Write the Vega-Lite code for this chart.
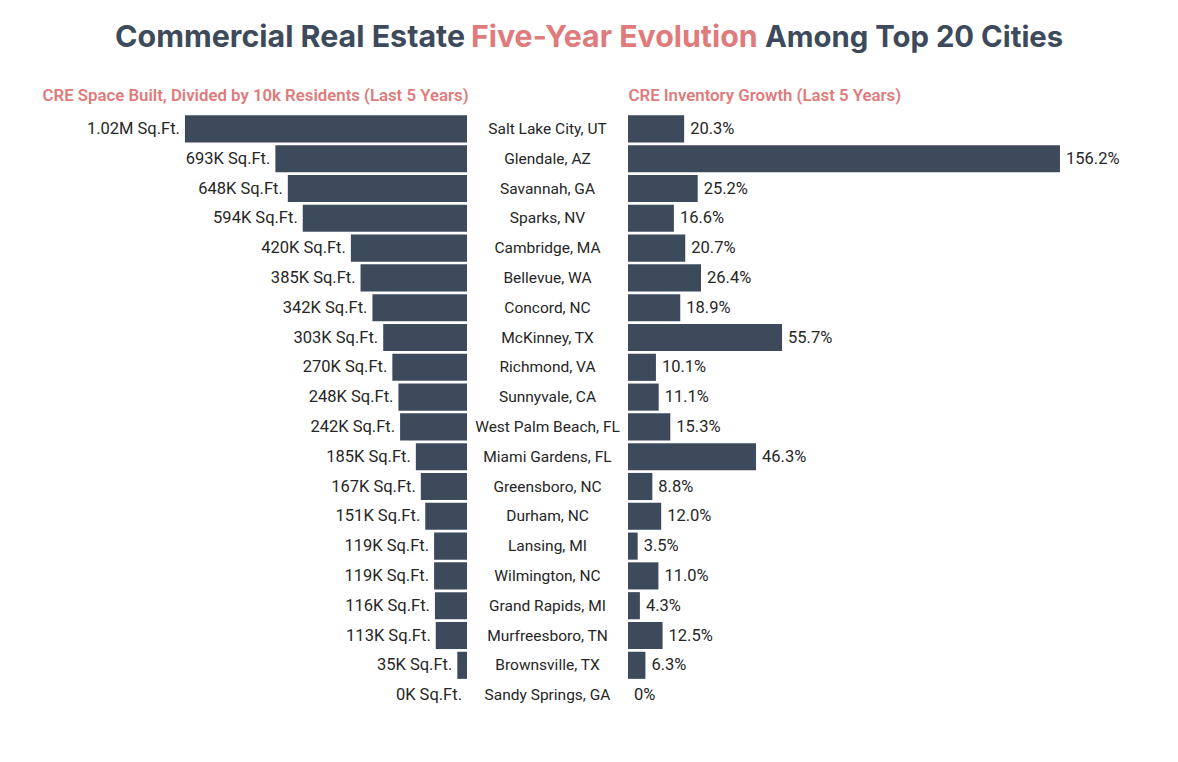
{
  "$schema": "https://vega.github.io/schema/vega-lite/v6.json",
  "background": "white",
  "padding": {"left": 42, "top": 22, "right": 0, "bottom": 0},
  "bounds": "flush",
  "spacing": 0,
  "config": {
    "font": "Roboto",
    "view": {"stroke": null},
    "title": {"font": "Inter", "fontSize": 30, "fontWeight": 700, "baseline": "alphabetic"}
  },
  "data": {"values": [
    {"city": "Salt Lake City, UT", "built": 1020, "builtLabel": "1.02M Sq.Ft.", "growth": 20.3, "growthLabel": "20.3%"},
    {"city": "Glendale, AZ", "built": 693, "builtLabel": "693K Sq.Ft.", "growth": 156.2, "growthLabel": "156.2%"},
    {"city": "Savannah, GA", "built": 648, "builtLabel": "648K Sq.Ft.", "growth": 25.2, "growthLabel": "25.2%"},
    {"city": "Sparks, NV", "built": 594, "builtLabel": "594K Sq.Ft.", "growth": 16.6, "growthLabel": "16.6%"},
    {"city": "Cambridge, MA", "built": 420, "builtLabel": "420K Sq.Ft.", "growth": 20.7, "growthLabel": "20.7%"},
    {"city": "Bellevue, WA", "built": 385, "builtLabel": "385K Sq.Ft.", "growth": 26.4, "growthLabel": "26.4%"},
    {"city": "Concord, NC", "built": 342, "builtLabel": "342K Sq.Ft.", "growth": 18.9, "growthLabel": "18.9%"},
    {"city": "McKinney, TX", "built": 303, "builtLabel": "303K Sq.Ft.", "growth": 55.7, "growthLabel": "55.7%"},
    {"city": "Richmond, VA", "built": 270, "builtLabel": "270K Sq.Ft.", "growth": 10.1, "growthLabel": "10.1%"},
    {"city": "Sunnyvale, CA", "built": 248, "builtLabel": "248K Sq.Ft.", "growth": 11.1, "growthLabel": "11.1%"},
    {"city": "West Palm Beach, FL", "built": 242, "builtLabel": "242K Sq.Ft.", "growth": 15.3, "growthLabel": "15.3%"},
    {"city": "Miami Gardens, FL", "built": 185, "builtLabel": "185K Sq.Ft.", "growth": 46.3, "growthLabel": "46.3%"},
    {"city": "Greensboro, NC", "built": 167, "builtLabel": "167K Sq.Ft.", "growth": 8.8, "growthLabel": "8.8%"},
    {"city": "Durham, NC", "built": 151, "builtLabel": "151K Sq.Ft.", "growth": 12.0, "growthLabel": "12.0%"},
    {"city": "Lansing, MI", "built": 119, "builtLabel": "119K Sq.Ft.", "growth": 3.5, "growthLabel": "3.5%"},
    {"city": "Wilmington, NC", "built": 119, "builtLabel": "119K Sq.Ft.", "growth": 11.0, "growthLabel": "11.0%"},
    {"city": "Grand Rapids, MI", "built": 116, "builtLabel": "116K Sq.Ft.", "growth": 4.3, "growthLabel": "4.3%"},
    {"city": "Murfreesboro, TN", "built": 113, "builtLabel": "113K Sq.Ft.", "growth": 12.5, "growthLabel": "12.5%"},
    {"city": "Brownsville, TX", "built": 35, "builtLabel": "35K Sq.Ft.", "growth": 6.3, "growthLabel": "6.3%"},
    {"city": "Sandy Springs, GA", "built": 0, "builtLabel": "0K Sq.Ft.", "growth": 0, "growthLabel": "0%"}
  ]},
  "hconcat": [
    {
      "width": 425,
      "height": 596,
      "title": {"text": "Commercial Real Estate", "color": "#3d4a5c", "fontSize": 30.4, "anchor": "end", "frame": "group", "offset": 34, "dx": -2},
      "encoding": {
        "y": {"field": "city", "type": "nominal", "sort": null, "axis": null, "scale": {"paddingInner": 0.09, "paddingOuter": 0.045}}
      },
      "layer": [
        {
          "mark": {"type": "bar", "color": "#3d4a5c"},
          "encoding": {
            "x": {
              "field": "built",
              "type": "quantitative",
              "scale": {"domain": [0, 1537], "reverse": true, "nice": false},
              "axis": {
                "orient": "top", "title": "CRE Space Built, Divided by 10k Residents (Last 5 Years)",
                "titleColor": "#e07b7b", "titleFont": "Roboto", "titleFontSize": 16.8, "titleFontWeight": 600,
                "titleX": 0, "titleY": -14, "titleAlign": "left", "titleBaseline": "alphabetic",
                "labels": false, "ticks": false, "domain": false, "grid": false
              }
            }
          }
        },
        {
          "mark": {"type": "text", "align": "right", "dx": -5, "fontSize": 16.5, "color": "#262626"},
          "encoding": {
            "x": {"field": "built", "type": "quantitative"},
            "text": {"field": "builtLabel"}
          }
        }
      ]
    },
    {
      "width": 161,
      "height": 596,
      "title": {"text": "Five-Year Evolution", "color": "#e07b7b", "fontSize": 30.3, "anchor": "start", "frame": "group", "offset": 61, "dx": 4},
      "mark": {"type": "text", "fontSize": 15.5, "color": "#262626"},
      "encoding": {
        "y": {"field": "city", "type": "nominal", "sort": null, "axis": null, "scale": {"paddingInner": 0.09, "paddingOuter": 0.045}},
        "text": {"field": "city"}
      }
    },
    {
      "width": 500,
      "height": 596,
      "title": {"text": "Among Top 20 Cities", "color": "#3d4a5c", "fontSize": 29.3, "anchor": "start", "frame": "group", "offset": 34, "dx": 137},
      "encoding": {
        "y": {"field": "city", "type": "nominal", "sort": null, "axis": null, "scale": {"paddingInner": 0.09, "paddingOuter": 0.045}}
      },
      "layer": [
        {
          "mark": {"type": "bar", "color": "#3d4a5c"},
          "encoding": {
            "x": {
              "field": "growth",
              "type": "quantitative",
              "scale": {"domain": [0, 180.8], "nice": false},
              "axis": {
                "orient": "top", "title": "CRE Inventory Growth (Last 5 Years)",
                "titleColor": "#e07b7b", "titleFont": "Roboto", "titleFontSize": 16.8, "titleFontWeight": 600,
                "titleX": 0, "titleY": -14, "titleAlign": "left", "titleBaseline": "alphabetic",
                "labels": false, "ticks": false, "domain": false, "grid": false
              }
            }
          }
        },
        {
          "mark": {"type": "text", "align": "left", "dx": 6, "fontSize": 16.5, "color": "#262626"},
          "encoding": {
            "x": {"field": "growth", "type": "quantitative"},
            "text": {"field": "growthLabel"}
          }
        }
      ]
    }
  ]
}
